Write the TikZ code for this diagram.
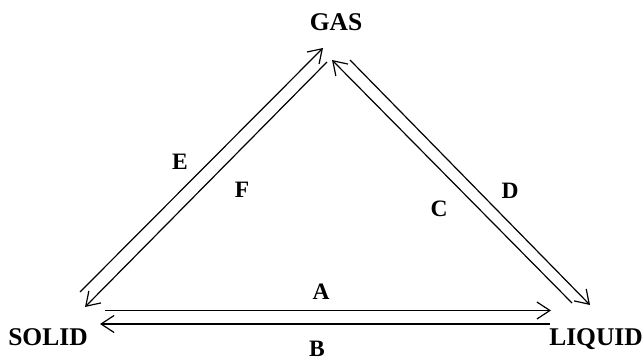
\documentclass[tikz,border=0pt]{standalone}
\usepackage{fontspec}
\setmainfont{Liberation Serif}
\usetikzlibrary{arrows.meta}
\tikzset{
  phase/.style={font=\bfseries\fontsize{25.5}{30}\selectfont, inner sep=0pt, anchor=base},
  lbl/.style={font=\bfseries\fontsize{23.5}{28}\selectfont, inner sep=0pt, anchor=base},
  conv/.style={line width=1.2pt, -{Straight Barb[length=13pt,width=17pt,line width=1.2pt]}}
}
\begin{document}
\begin{tikzpicture}[x=1pt,y=1pt]
\useasboundingbox (0,0) rectangle (644,361);
% phase names
\node[phase] (gas) at (336,330) {GAS};
\node[phase] (solid) at (48,16) {SOLID};
\node[phase] (liquid) at (596,16) {LIQUID};
% connector ends
\coordinate (e1) at (80,69);   \coordinate (e2) at (323,313);
\coordinate (f1) at (327,299); \coordinate (f2) at (85,54);
\coordinate (c1) at (572,58);  \coordinate (c2) at (332,301);
\coordinate (d1) at (350,301); \coordinate (d2) at (590,56);
\coordinate (a1) at (105,50.5);\coordinate (a2) at (551,50.5);
\coordinate (b1) at (550,37);  \coordinate (b2) at (100,37);
% connectors
\draw[conv] (e1) -- (e2);
\draw[conv] (f1) -- (f2);
\draw[conv] (c1) -- (c2);
\draw[conv] (d1) -- (d2);
\draw[conv] (a1) -- (a2);
\draw[conv] (b1) -- (b2);
% labels
\node[lbl] (la) at (321,61) {A};
\node[lbl] (lb) at (317,5) {B};
\node[lbl] (lc) at (439,144) {C};
\node[lbl] (ld) at (510,162) {D};
\node[lbl] (le) at (180,191) {E};
\node[lbl] (lf) at (242,163) {F};
\end{tikzpicture}
\end{document}
